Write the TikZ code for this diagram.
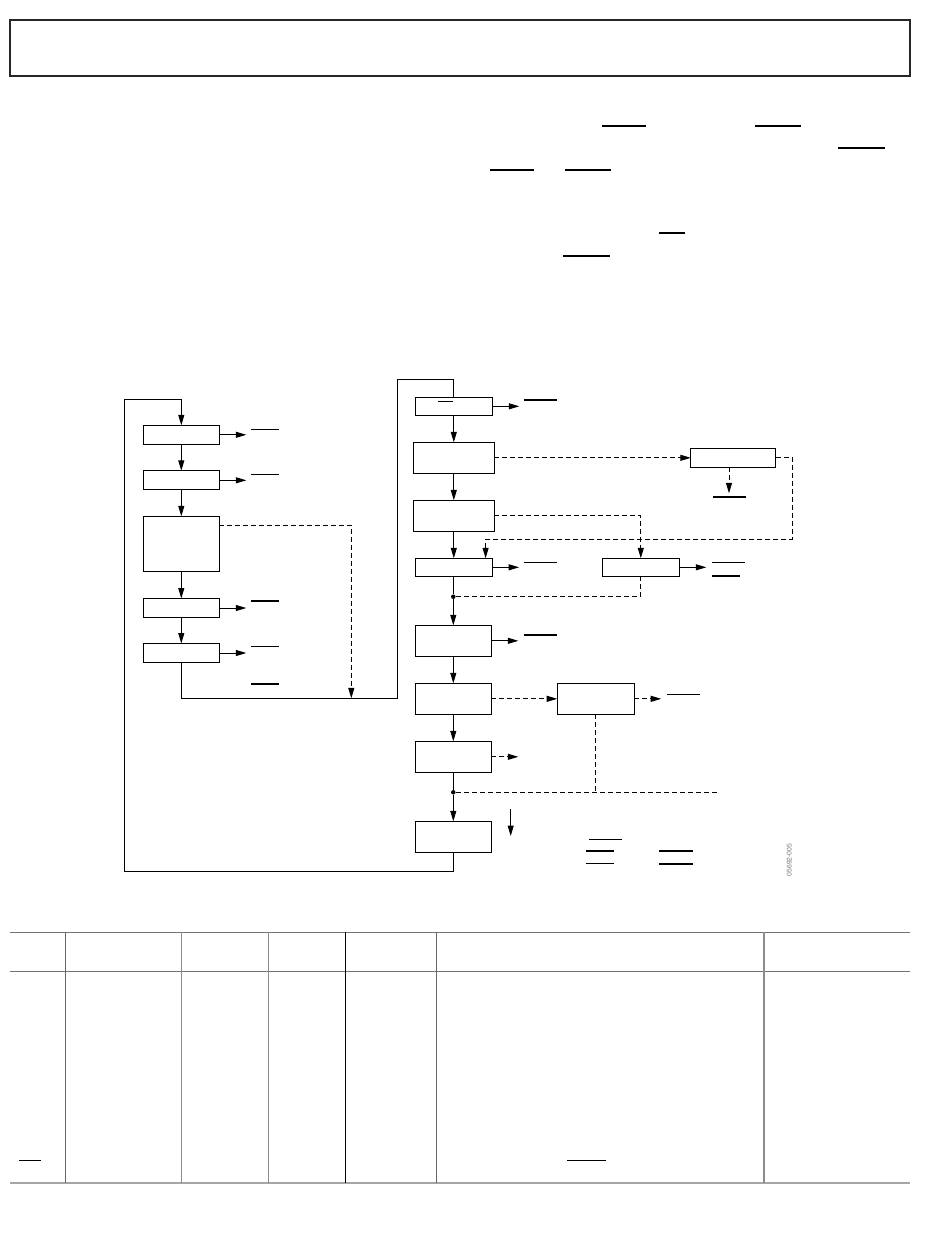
\documentclass[tikz,border=0pt]{standalone}
\usepackage{fontspec}
\setmainfont{Liberation Sans}
\usetikzlibrary{arrows.meta,calc}
\begin{document}
\begin{tikzpicture}[x=1pt,y=-1pt,
  box/.style={draw=black,line width=1pt,inner sep=0pt,outer sep=0pt,minimum width=76pt,minimum height=19pt},
  wbox/.style={box,minimum width=81pt,minimum height=31pt},
  mbox/.style={box,minimum width=76pt,minimum height=31pt},
  line/.style={line width=1pt,draw=black},
  arr/.style={line,-{Triangle[length=10.5pt,width=6pt]}},
  dline/.style={line,dash pattern=on 5pt off 3pt},
  darr/.style={dline,-{Triangle[length=10.5pt,width=6pt]}},
  bar/.style={line width=1.1pt,draw=black},
  tline/.style={line width=1.3pt,draw=black!45},
  dot/.style={circle,fill=black,inner sep=0pt,minimum size=4.5pt}
]
\useasboundingbox (0,0) rectangle (950,1254);
\fill[white] (0,0) rectangle (950,1254);

% title frame
\node[draw=black!85,line width=1.6pt,inner sep=0pt,minimum width=900pt,minimum height=56pt] (title) at (460,48) {};

% text overbars
\draw[bar] (602,126) -- (646,126);
\draw[bar] (755,126) -- (801,126);
\draw[bar] (838,148) -- (885,148);
\draw[bar] (490,170) -- (534,170);
\draw[bar] (565,170) -- (611,170);
\draw[bar] (659,233) -- (685,233);
\draw[bar] (563,256) -- (610,256);

% left column
\node[box] (L1) at (181.3,434.8) {};
\node[box] (L2) at (181.3,480.3) {};
\node[box,minimum height=55pt] (L3) at (181.3,543.8) {};
\node[box] (L4) at (181.3,608) {};
\node[box] (L5) at (181.3,653) {};

% right column
\node[box,minimum width=77pt,minimum height=18pt] (R1) at (453.8,406.3) {};
\node[wbox] (R2) at (453.8,457.8) {};
\node[wbox] (R3) at (453.8,515.8) {};
\node[box,minimum width=77pt,minimum height=18pt] (R4) at (453.6,567.3) {};
\node[mbox] (R5) at (453.3,640.8) {};
\node[mbox] (R6) at (453.3,698.8) {};
\node[mbox] (R7) at (453.3,756.8) {};
\node[mbox] (R8) at (453.3,836.8) {};

% side boxes
\node[box,minimum width=85pt] (S1) at (733.3,457.8) {};
\node[box,minimum width=77pt,minimum height=18pt] (S2) at (640.8,567.3) {};
\node[box,minimum width=77pt,minimum height=31pt] (S3) at (595.7,698.8) {};

% coordinates
\coordinate (loopBR) at (453.3,871);
\coordinate (loopBL) at (124.3,871);
\coordinate (loopTL) at (124.3,399.3);
\coordinate (jA) at (397.3,698.3);
\coordinate (jB) at (397.3,379.3);
\coordinate (jL3) at (351.3,698.3);
\coordinate (e1) at (792.3,539.3);
\node[dot] (d1) at (453.3,596.7) {};
\node[dot] (d2) at (453.3,792.3) {};
\coordinate (e2) at (716.7,792.3);
\coordinate (la) at (510.7,809);
\coordinate (lb) at (510.7,836);

% loop
\draw[line] (R8.south) -- (loopBR) -- (loopBL) -- (loopTL);
\draw[arr] (loopTL) -| (L1.north);
% left chain
\draw[arr] (L1) -- (L2);
\draw[arr] (L2) -- (L3);
\draw[arr] (L3) -- (L4);
\draw[arr] (L4) -- (L5);
\draw[arr] (L1.east) -- ++(27,0);
\draw[arr] (L2.east) -- ++(27,0);
\draw[arr] (L4.east) -- ++(27,0);
\draw[arr] (L5.east) -- ++(27,0);
\draw[darr] ([yshift=-9pt]L3.north east) -| (jL3);
\draw[line] (L5.south) |- (jA) -- (jB) -| (R1.north);

% left bars
\draw[bar] (251,429.3) -- (279.3,429.3);
\draw[bar] (251,474.3) -- (279.3,474.3);
\draw[bar] (251,601) -- (279.3,601);
\draw[bar] (251,646.3) -- (279.3,646.3);
\draw[bar] (251,684) -- (279.3,684);

% right chain
\draw[arr] (R1.south -| R1) -- (R2.north -| R1);
\draw[arr] (R2.south -| R1) -- (R3.north -| R1);
\draw[arr] (R3.south -| R1) -- (R4.north -| R1);
\draw[line] (R4.south -| d1) -- (d1);
\draw[arr] (d1) -- (R5);
\draw[arr] (R5) -- (R6);
\draw[arr] (R6) -- (R7);
\draw[line] (R7) -- (d2);
\draw[arr] (d2) -- (R8);

\draw[arr] (R1.east) -- ++(27,0);
\draw[arr] (R4.east) -- ++(27,0);
\draw[arr] (R5.east) -- ++(27,0);
\draw[darr] (R7.east) -- ++(27,0);
\draw[arr] (S2.east) -- ++(27,0);

% dashed links
\draw[darr] (R2.east) -- (S1.west);
\draw[darr] ([xshift=-4.3pt]S1.south) -- ++(0,26);
\draw[darr] (S1.east) -| (e1) -| ([xshift=32pt]R4.north);
\draw[darr] (R3.east) -| (S2.north);
\draw[dline] (S2.south) |- (d1);
\draw[darr] (R6.east) -- (S3.west);
\draw[darr] (S3.east) -- ++(27,0);
\draw[dline] (S3.south) -- (S3.south |- d2);
\draw[dline] (d2) -- (e2);
\draw[arr] (la) -- (lb);

% right bars
\draw[bar] (438,401.7) -- (453.3,401.7);
\draw[bar] (523.7,400) -- (556.7,400);
\draw[bar] (713.3,497) -- (745.7,497);
\draw[bar] (523.7,562.3) -- (556.7,562.3);
\draw[bar] (712,562.3) -- (744.7,562.3);
\draw[bar] (712,576) -- (740,576);
\draw[bar] (523.7,635) -- (556.7,635);
\draw[bar] (667,694.3) -- (700.3,694.3);
\draw[bar] (589,839.3) -- (621.7,839.3);
\draw[bar] (585.7,851) -- (614.3,851);
\draw[bar] (585.7,863.3) -- (614.3,863.3);
\draw[bar] (659.3,851) -- (692.7,851);
\draw[bar] (659.3,864) -- (692.7,864);

\node[rotate=90,text=black!55,font=\fontsize{6.8}{7}\selectfont,inner sep=0pt] (fig) at (789.2,860) {05692-005};

% table
\draw[line width=1.6pt,draw=black!55] (10,932.3) -- (910,932.3);
\draw[line width=1.6pt,draw=black!55] (10,971.3) -- (910,971.3);
\draw[line width=1.8pt,draw=black!35] (10,1182.7) -- (910,1182.7);
\draw[line width=1.1pt,draw=black!60] (65.3,932.3) -- (65.3,1182.7);
\draw[tline] (181.3,932.3) -- (181.3,1182.7);
\draw[tline] (268.7,932.3) -- (268.7,1182.7);
\draw[line width=1pt,draw=black] (345.6,932.3) -- (345.6,1182.7);
\draw[line width=1.1pt,draw=black!60] (436.3,932.3) -- (436.3,1182.7);
\draw[tline] (764,932.3) -- (764,1182.7);
\draw[bar] (19,1160.7) -- (40.7,1160.7);
\draw[bar] (567,1160.7) -- (606,1160.7);
\end{tikzpicture}
\end{document}
